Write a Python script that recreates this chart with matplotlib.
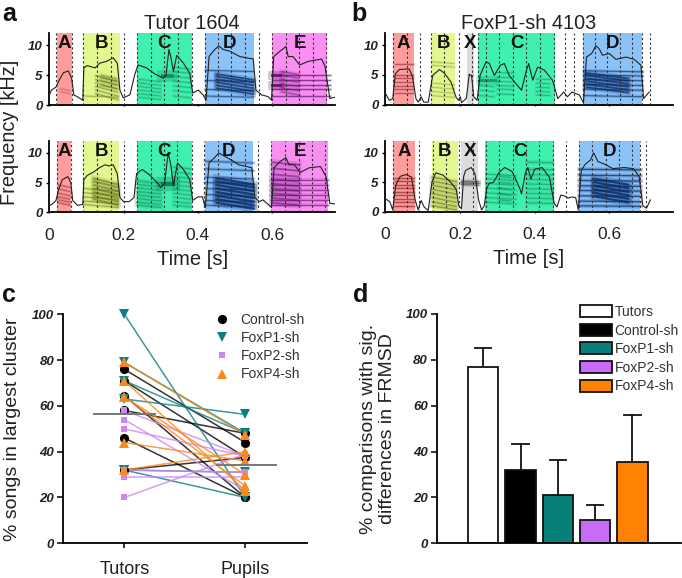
import matplotlib
matplotlib.use('Agg')
import matplotlib.pyplot as plt
from matplotlib.patches import Patch
from matplotlib.lines import Line2D

plt.rcParams['font.family'] = ['Liberation Sans', 'DejaVu Sans']

W, H = 682, 578

# spectrogram envelopes: time [s], frequency [kHz]
a_top_t = [0, .006, .018, .027, .038, .051, .060, .066, .078, .090, .093, .102, .123, .136, .154, .172, .183, .190, .199, .217, .230, .239, .262, .284, .307, .314, .322, .327, .334, .343, .361, .378, .386, .401, .414, .422, .430, .441, .456, .468, .486, .513, .549, .556, .571, .589, .598, .604, .621, .637, .643, .656, .674, .697, .733, .742, .755, .769]
a_top_f = [1.7, 2.5, 3.0, 4.2, 5.4, 5.7, 4.5, 1.7, 1.3, 0.8, 6.2, 6.6, 6.2, 7.0, 7.3, 7.9, 7.0, 2.5, 1.2, 1.7, 5.1, 6.7, 6.2, 5.2, 4.5, 4.9, 9.3, 8.1, 5.6, 8.3, 7.0, 5.3, 2.0, 2.5, 1.7, 0.8, 8.1, 9.0, 9.9, 9.3, 9.0, 8.1, 7.7, 2.5, 1.7, 1.4, 0.8, 8.1, 9.0, 9.8, 8.1, 8.1, 6.7, 7.3, 7.7, 6.5, 1.1, 1.3]
a_bot_t = [0, .01, .018, .025, .035, .05, .058, .063, .075, .09, .093, .102, .12, .135, .15, .16, .172, .183, .19, .20, .215, .228, .235, .25, .27, .29, .30, .31, .32, .327, .334, .345, .36, .378, .386, .40, .412, .42, .43, .445, .456, .47, .49, .51, .545, .553, .565, .575, .59, .598, .605, .62, .637, .645, .66, .675, .70, .73, .745, .755, .769]
a_bot_f = [1.1, 1.5, 2.0, 3.8, 5.5, 6.0, 5.0, 2.0, 1.2, 1.3, 5.5, 6.2, 6.8, 7.5, 8.0, 7.8, 8.0, 6.5, 2.5, 1.8, 1.8, 2.5, 6.5, 7.2, 6.3, 5.0, 4.2, 4.8, 10.0, 8.0, 4.5, 8.3, 7.3, 5.5, 2.0, 2.6, 2.6, 0.8, 8.3, 9.2, 10.0, 9.5, 8.8, 8.0, 7.5, 2.5, 1.8, 2.1, 1.3, 0.8, 7.5, 8.5, 9.2, 8.0, 8.0, 6.7, 7.5, 7.7, 6.0, 1.5, 1.4]
b_top_t = [0, .011, .02, .027, .038, .064, .073, .082, .088, .096, .103, .115, .127, .145, .158, .176, .189, .196, .201, .204, .217, .225, .231, .237, .246, .254, .27, .279, .292, .308, .319, .332, .35, .365, .377, .384, .395, .408, .426, .448, .462, .478, .488, .50, .52, .531, .539, .553, .564, .573, .582, .60, .618, .645, .667, .685, .692, .707]
b_top_f = [1.9, 0.7, 1.0, 5.2, 5.9, 6.0, 4.7, 1.0, 0.4, 1.3, 0.4, 0.4, 4.9, 5.9, 5.3, 3.8, 1.3, 0.7, 1.3, 0.3, 1.0, 5.1, 4.9, 1.3, 0.7, 4.9, 7.2, 6.9, 4.9, 6.6, 6.9, 4.9, 3.5, 2.4, 5.5, 6.9, 4.1, 6.3, 5.8, 4.1, 1.0, 2.1, 1.3, 2.1, 1.6, 0.3, 8.0, 8.6, 9.9, 9.4, 8.3, 8.6, 7.6, 8.0, 7.6, 6.6, 1.0, 2.1]
b_bot_t = [0, .012, .02, .028, .04, .055, .07, .08, .088, .096, .104, .115, .125, .135, .155, .175, .19, .197, .204, .21, .215, .23, .24, .25, .258, .265, .272, .278, .29, .305, .32, .34, .36, .365, .375, .382, .39, .40, .42, .44, .452, .46, .47, .48, .49, .50, .51, .517, .525, .535, .55, .558, .57, .59, .61, .64, .665, .68, .69, .70, .71]
b_bot_f = [2.2, 1.7, 0.3, 4.5, 6.0, 6.3, 5.9, 2.0, 0.3, 1.9, 0.8, 0.2, 5.0, 6.6, 6.2, 5.0, 3.8, 1.0, 0.5, 6.0, 7.0, 7.5, 6.5, 2.0, 0.3, 1.0, 4.0, 4.8, 5.0, 6.7, 7.5, 6.8, 4.0, 3.0, 6.5, 7.5, 5.5, 7.2, 7.5, 5.8, 1.5, 0.8, 2.8, 2.7, 2.3, 2.5, 2.4, 0.3, 7.0, 8.0, 8.8, 10.0, 8.5, 8.0, 7.3, 7.5, 7.3, 6.0, 1.0, 0.6, 2.0]

# segment boundaries
a_top_names = ['A', 'B', 'C', 'D', 'E']
a_top_spans = [(.02, .06), (.092, .19), (.237, .383), (.42, .552), (.6, .748)]
a_bot_spans = [(.02, .058), (.092, .188), (.235, .383), (.418, .549), (.597, .75)]
b_names = ['A', 'B', 'X', 'C', 'D']
b_top_spans = [(.02, .078), (.122, .188), (.219, .237), (.249, .455), (.531, .689)]
b_bot_spans = [(.02, .08), (.125, .194), (.204, .249), (.267, .453), (.519, .682)]

# dashed time grid
a_top_dash = [.018, .06, .092, .128, .165, .2, .237, .273, .308, .346, .383, .418, .455, .49, .528, .565, .6, .636, .672, .71, .746]
a_bot_dash = [.02, .058, .092, .128, .165, .2, .235, .273, .308, .344, .383, .417, .455, .49, .526, .562, .598, .634, .672, .708, .742]
b_top_dash = [.02, .058, .093, .122, .158, .198, .231, .249, .271, .305, .341, .377, .414, .453, .481, .505, .531, .562, .595, .629, .66, .689, .71]
b_bot_dash = [.02, .057, .091, .127, .162, .198, .234, .27, .305, .341, .377, .413, .45, .484, .519, .555, .591, .627, .66, .682, .698]

colors_seg = {'A': '#ff9c9c', 'B': '#e2f78e', 'C': '#3ff0ae', 'D': '#8cc3f7', 'E': '#fa8ff2', 'X': '#dcdcdc'}
colors_ink = {'A': '#8a1f2a', 'B': '#4f5c08', 'C': '#067a50', 'D': '#062a68', 'E': '#5c0a68', 'X': '#333333'}

# harmonic streaks: syllable, t0, t1, frequencies, downward sweep, width, alpha
a_top_streaks = [
    ('A', .03, .055, [2.2, 2.7], .3, .6, .3),
    ('B', .095, .185, [1.5], .2, .6, .4),
    ('B', .125, .185, [1.9, 2.5, 3.1, 3.7, 4.3, 4.9], 1.0, .7, .45),
    ('B', .14, .18, [3.3, 4.0, 4.6, 5.0], .6, 1.0, .4),
    ('C', .24, .30, [1.3, 1.9, 2.5, 3.1, 3.7, 4.3], .4, .7, .4),
    ('C', .305, .33, [4.8], 0, 2.6, .8),
    ('C', .335, .38, [1.5, 2.4, 3.2, 4.0, 4.8, 5.6, 6.3], .3, .7, .4),
    ('D', .42, .55, [1.5, 2.6, 4.1, 5.8], .2, .7, .6),
    ('D', .45, .55, [2.8, 3.3, 3.8, 4.3, 4.8, 5.2], 1.0, 1.2, .7),
    ('E', .6, .755, [1.5, 2.6, 3.4, 4.2, 5.0], 0, .7, .6),
    ('E', .6, .62, [3.4, 5.0], 0, 2.0, .8),
    ('E', .625, .67, [2.2, 2.9, 3.6, 4.3, 5.0, 5.6], .5, 1.1, .45),
]
a_bot_streaks = [
    ('A', .025, .055, [1.6, 2.1, 2.6, 3.2, 3.9, 4.6], .4, .7, .5),
    ('B', .095, .185, [1.3, 1.9, 2.6, 3.3, 4.0], .5, .7, .45),
    ('B', .12, .185, [2.2, 2.8, 3.4, 4.0, 4.6, 5.2, 5.7], 1.0, 1.3, .5),
    ('C', .235, .30, [1.2, 1.7, 2.3, 2.9, 3.5, 4.1, 4.7, 5.3], .4, 1.0, .45),
    ('C', .305, .332, [4.8], 0, 3.2, .85),
    ('C', .335, .38, [1.2, 1.8, 2.5, 3.2, 3.9, 4.6, 5.3, 6.0, 6.8, 7.6], .3, .9, .4),
    ('D', .42, .55, [1.2, 2.0, 3.0, 4.0, 5.0, 5.9, 7.3, 8.6], .3, .8, .55),
    ('D', .45, .55, [1.6, 2.2, 2.8, 3.4, 4.0, 4.6, 5.2, 5.7], 1.0, 1.7, .75),
    ('E', .597, .75, [1.2, 2.0, 2.9, 3.7, 4.6, 5.4], 0, .8, .55),
    ('E', .6, .67, [1.6, 2.4, 3.2, 4.0, 4.8, 5.6, 6.4, 7.4, 8.4], .4, 1.5, .5),
]
b_top_streaks = [
    ('A', .025, .075, [2.0, 2.6, 3.2, 3.8, 4.4, 5.0, 6.8], 0, .7, .5),
    ('B', .125, .185, [1.5, 2.2, 2.9, 3.6, 6.6, 7.2], .3, .6, .3),
    ('X', .222, .235, [5.0], 0, .6, .3),
    ('C', .255, .295, [4.1], 0, 2.0, .65),
    ('C', .255, .29, [1.5, 2.4, 3.2], .2, .7, .4),
    ('C', .3, .34, [1.8, 2.6, 3.2, 3.9, 4.6, 5.4], .1, .7, .4),
    ('C', .405, .44, [1.6, 2.2, 2.9, 3.6, 4.3], .1, .7, .4),
    ('D', .531, .69, [1.5, 2.6, 3.4, 4.2, 5.0, 5.7], .2, .7, .65),
    ('D', .54, .65, [2.9, 3.4, 3.9, 4.4, 4.9, 5.3], .9, 1.3, .7),
]
b_bot_streaks = [
    ('A', .025, .078, [1.0, 1.6, 2.2, 2.8, 3.4, 4.0, 4.6, 5.2, 5.8], 0, .7, .6),
    ('B', .125, .19, [1.0, 1.7, 2.4, 3.1, 3.8, 4.5, 5.2, 5.9], .8, 1.1, .5),
    ('X', .205, .25, [4.6, 4.9, 5.2], .1, 1.0, .5),
    ('C', .27, .35, [1.6, 2.4, 3.2, 4.0, 4.8, 5.6, 6.4], .3, .8, .4),
    ('C', .305, .335, [2.0, 3.0, 4.0, 5.0, 6.0], .2, 1.0, .4),
    ('C', .38, .45, [1.5, 2.3, 3.1, 3.9, 4.7, 5.5, 6.3, 7.2, 8.4], .1, 1.0, .4),
    ('D', .519, .685, [1.0, 1.8, 2.7, 3.6, 4.4, 5.3, 6.2, 7.2], .1, .9, .7),
    ('D', .56, .65, [2.6, 3.2, 3.8, 4.4, 5.0, 5.6], 1.0, 1.7, .75),
]

# panel c
c_groups = ['Control-sh', 'FoxP1-sh', 'FoxP2-sh', 'FoxP4-sh']
c_colors = ['#000000', '#0a8080', '#cf86f5', '#f88a1c']
c_markers = ['o', 'v', 's', '^']
c_sizes = [6.6, 7.0, 4.4, 7.4]
control_tutors = [76, 71, 64.5, 58, 46, 32]
control_pupils = [44, 37.5, 20, 48, 20, 37.5]
foxp1_tutors = [100, 79, 71, 63, 32, 32]
foxp1_pupils = [20, 48, 48, 56.3, 31, 20]
foxp2_tutors = [58, 54, 50, 32, 29, 20]
foxp2_pupils = [38, 23, 38, 31, 29, 39]
foxp4_tutors = [79, 71, 64, 64, 44, 32]
foxp4_pupils = [47.5, 23, 30, 25, 36, 40]
c_medians = [56.3, 34]
c_categories = ['Tutors', 'Pupils']

# panel d
d_groups = ['Tutors', 'Control-sh', 'FoxP1-sh', 'FoxP2-sh', 'FoxP4-sh']
d_values = [77, 32, 21, 10, 35.5]
d_err_tops = [85, 43.2, 36.5, 16.5, 56]
d_colors = ['#ffffff', '#000000', '#077f7b', '#c86cf7', '#ff8204']


def px_axes(left, top, right, bottom):
    return fig.add_axes([left / W, 1 - bottom / H, (right - left) / W, (bottom - top) / H])


def style_ticks(ax, ticks, size):
    ax.set_yticks(ticks)
    ax.set_yticklabels([str(v) for v in ticks], fontsize=size, fontweight='bold', fontstyle='italic', color='#222222')
    ax.spines['top'].set_visible(False)
    ax.spines['right'].set_visible(False)
    ax.spines['left'].set_linewidth(1.3)
    ax.spines['bottom'].set_linewidth(1.3)


def draw_song(ax, t, f, names, spans, dashes, streaks, xmax, show_x):
    for name, (s0, s1) in zip(names, spans):
        ax.axvspan(s0, s1, color=colors_seg[name], lw=0, zorder=1)
        ax.text((s0 + s1) / 2, 10.3, name, ha='center', va='center', fontsize=13.5, fontweight='bold', color='#111111', zorder=6)
    for name, t0, t1, freqs, drop, lw, alpha in streaks:
        for v in freqs:
            # soft halo under each streak, the picture is blurred
            ax.plot([t0, t1], [v, max(v - drop, .3)], color=colors_ink[name], lw=lw * 3.2, alpha=alpha * .3, zorder=2)
            ax.plot([t0, t1], [v, max(v - drop, .3)], color=colors_ink[name], lw=lw, alpha=alpha, zorder=2)
    for d in dashes:
        ax.axvline(d, color='#333333', lw=.8, dashes=(2, 2.2), zorder=3)
    ax.plot(t, f, color='#222222', lw=.8, zorder=4)
    ax.set_xlim(0, xmax)
    ax.set_ylim(0, 12)
    style_ticks(ax, [0, 5, 10], 9.5)
    ax.tick_params(axis='y', length=2.5, width=1, pad=2.5)
    ax.set_xticks([0, .2, .4, .6])
    ax.tick_params(axis='x', length=2, width=1, direction='inout')
    if show_x:
        ax.set_xticklabels(['0', '0.2', '0.4', '0.6'], fontsize=12.5, color='#222222')
        ax.tick_params(axis='x', pad=10)
        ax.set_xlabel('Time [s]', fontsize=14.5, color='#222222', labelpad=5)
    else:
        ax.set_xticklabels([])


fig = plt.figure(figsize=(W / 100, H / 100), dpi=100)

ax1 = px_axes(49.3, 33.3, 335, 105)
draw_song(ax1, a_top_t, a_top_f, a_top_names, a_top_spans, a_top_dash, a_top_streaks, .769, False)
ax1.set_title('Tutor 1604', fontsize=14.3, color='#222222', pad=3, x=.5)
ax2 = px_axes(49.3, 141, 335, 212.3)
draw_song(ax2, a_bot_t, a_bot_f, a_top_names, a_bot_spans, a_bot_dash, a_bot_streaks, .769, True)
ax3 = px_axes(385.3, 33.3, 672.7, 104.5)
draw_song(ax3, b_top_t, b_top_f, b_names, b_top_spans, b_top_dash, b_top_streaks, .77, False)
ax3.set_title('FoxP1-sh 4103', fontsize=14.3, color='#222222', pad=3, x=.5)
ax4 = px_axes(385.3, 141, 672.7, 211.7)
draw_song(ax4, b_bot_t, b_bot_f, b_names, b_bot_spans, b_bot_dash, b_bot_streaks, .77, True)

fig.text(10 / W, 1 - 132 / H, 'Frequency [kHz]', rotation=90, fontsize=14.4, color='#222222', ha='center', va='center')

# panel c
ax5 = px_axes(63.3, 314.3, 306.7, 543.3)
c_tutors = [control_tutors, foxp1_tutors, foxp2_tutors, foxp4_tutors]
c_pupils = [control_pupils, foxp1_pupils, foxp2_pupils, foxp4_pupils]
for tut, pup, col in zip(c_tutors, c_pupils, c_colors):
    for a, b in zip(tut, pup):
        ax5.plot([0, 1], [a, b], color=col, lw=1.1, alpha=.8, zorder=2)
for tut, pup, col, m, ms in zip(c_tutors, c_pupils, c_colors, c_markers, c_sizes):
    ax5.plot([0] * len(tut), tut, ls='', marker=m, ms=ms, color=col, mew=0, zorder=3, clip_on=False)
    ax5.plot([1] * len(pup), pup, ls='', marker=m, ms=ms, color=col, mew=0, zorder=3, clip_on=False)
ax5.plot([-.248, .253], [c_medians[0]] * 2, color='#777777', lw=1.4, zorder=4)
ax5.plot([.763, 1.25], [c_medians[1]] * 2, color='#777777', lw=1.4, zorder=4)
ax5.set_xlim(-.504, 1.507)
ax5.set_ylim(0, 100)
style_ticks(ax5, [0, 20, 40, 60, 80, 100], 9.5)
ax5.tick_params(axis='y', length=4, width=1.1, pad=2.5)
ax5.set_xticks([0, 1])
ax5.set_xticklabels(c_categories, fontsize=13, color='#222222')
ax5.tick_params(axis='x', length=3.5, width=1.1, pad=9)
ax5.set_ylabel('% songs in largest cluster', fontsize=14, color='#222222', labelpad=8)
handles = [Line2D([], [], ls='', marker=m, ms=ms, color=col, mew=0) for col, m, ms in zip(c_colors, c_markers, c_sizes)]
ax5.legend(handles, c_groups, frameon=False, fontsize=10, loc='upper left', bbox_to_anchor=(208 / W, 1 - 313 / H),
           bbox_transform=fig.transFigure, labelspacing=.3, handletextpad=.35, borderpad=0, borderaxespad=0,
           labelcolor='#333333')

# panel d
ax6 = px_axes(437, 314, 681, 543.3)
xs = list(range(len(d_values)))
ax6.bar(xs, d_values, width=.81, color=d_colors, edgecolor='#111111', lw=1.3, zorder=2)
for x, v, top in zip(xs, d_values, d_err_tops):
    ax6.plot([x, x], [v, top], color='#111111', lw=1.3, zorder=1)
    ax6.plot([x - .22, x + .22], [top, top], color='#111111', lw=1.3, zorder=1)
ax6.set_xlim(-1.24, 5.3)
ax6.set_ylim(0, 100)
style_ticks(ax6, [0, 20, 40, 60, 80, 100], 9.5)
ax6.tick_params(axis='y', length=4, width=1.1, pad=2.5)
ax6.set_xticks([])
ax6.set_ylabel('% comparisons with sig.\ndifferences in FRMSD', fontsize=14, color='#222222', labelpad=7, linespacing=1.15)
patches = [Patch(facecolor=c, edgecolor='#111111', lw=1.3, label=g) for c, g in zip(d_colors, d_groups)]
ax6.legend(handles=patches, frameon=False, fontsize=10, loc='upper left', bbox_to_anchor=(580 / W, 1 - 305 / H),
           bbox_transform=fig.transFigure, handlelength=2.3, handleheight=.95, labelspacing=.33, handletextpad=.2,
           borderpad=0, borderaxespad=0, labelcolor='#333333')

# panel letters
for s, x, y in [('a', 2, 21), ('b', 351, 21), ('c', 2, 302), ('d', 353, 302)]:
    fig.text(x / W, 1 - y / H, s, fontsize=18, fontweight='bold', color='#111111', ha='left', va='baseline')

fig.savefig('out.png', dpi=100)
